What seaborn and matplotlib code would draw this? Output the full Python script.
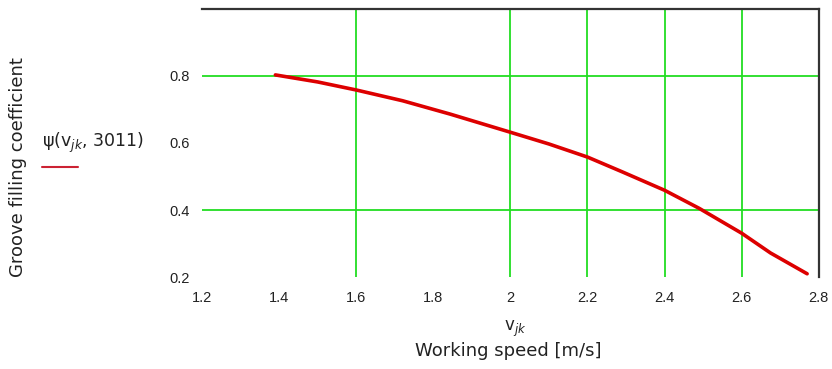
import matplotlib
matplotlib.use("Agg")
import matplotlib.pyplot as plt
import seaborn as sns
import pandas as pd

# Data
speed = [1.39, 1.50, 1.60, 1.72, 1.844, 2.00, 2.10, 2.20, 2.29, 2.40, 2.49, 2.60, 2.675, 2.77]
fill = [0.803, 0.782, 0.758, 0.726, 0.686, 0.632, 0.597, 0.558, 0.514, 0.459, 0.405, 0.331, 0.272, 0.210]
x_ticks = [1.2, 1.4, 1.6, 1.8, 2.0, 2.2, 2.4, 2.6, 2.8]
x_tick_labels = ["1.2", "1.4", "1.6", "1.8", "2", "2.2", "2.4", "2.6", "2.8"]
y_ticks = [0.2, 0.4, 0.6, 0.8]
y_tick_labels = ["0.2", "0.4", "0.6", "0.8"]
v_grid = [1.6, 2.0, 2.2, 2.4, 2.6]
h_grid = [0.4, 0.8]

df = pd.DataFrame({"speed": speed, "fill": fill})

sns.set_theme(style="white")
plt.rcParams["font.family"] = ["Liberation Sans", "DejaVu Sans"]

fig = plt.figure(figsize=(8.32, 3.69), dpi=100)
ax = fig.add_axes([0.243, 0.249, 0.741, 0.727])

grid_color = "#22dd22"
for gx in v_grid:
    ax.axvline(gx, color=grid_color, lw=1.3, zorder=1)
for gy in h_grid:
    ax.axhline(gy, color=grid_color, lw=1.3, zorder=1)

sns.lineplot(data=df, x="speed", y="fill", ax=ax, color="#dd0000", lw=2.6, zorder=3)

ax.set_xlim(1.2, 2.8)
ax.set_ylim(0.2, 1.0)
ax.set_xticks(x_ticks)
ax.set_xticklabels(x_tick_labels)
ax.set_yticks(y_ticks)
ax.set_yticklabels(y_tick_labels)
ax.tick_params(axis="both", length=0, labelsize=10.5, colors="#222222")
ax.tick_params(axis="x", pad=10)
ax.tick_params(axis="y", pad=9)
ax.set_xlabel("")
ax.set_ylabel("")

for side in ["left", "bottom"]:
    ax.spines[side].set_visible(False)
for side in ["top", "right"]:
    ax.spines[side].set_visible(True)
    ax.spines[side].set_color("#333333")
    ax.spines[side].set_linewidth(1.6)

title_font = ["DejaVu Sans"]
# axis titles
fig.text(515 / 832, 1 - 329 / 369, "v$_{jk}$", ha="center", va="center", fontsize=12,
         color="#222222", family=title_font)
fig.text(508 / 832, 1 - 351 / 369, "Working speed [m/s]", ha="center", va="center", fontsize=13,
         color="#222222", family=title_font)
fig.text(18 / 832, 1 - 167 / 369, "Groove filling coefficient", ha="center", va="center",
         rotation=90, fontsize=13, color="#222222", family=title_font)

# legend-like label on the left
fig.text(42 / 832, 1 - 143 / 369, "ψ(v$_{jk}$, 3011)", ha="left", va="center", fontsize=12.5,
         color="#222222", family=title_font)
fig.add_artist(plt.Line2D([42 / 832, 78 / 832], [1 - 167 / 369, 1 - 167 / 369], color="#cc2233", lw=1.5))

fig.savefig("out.png", dpi=100)
